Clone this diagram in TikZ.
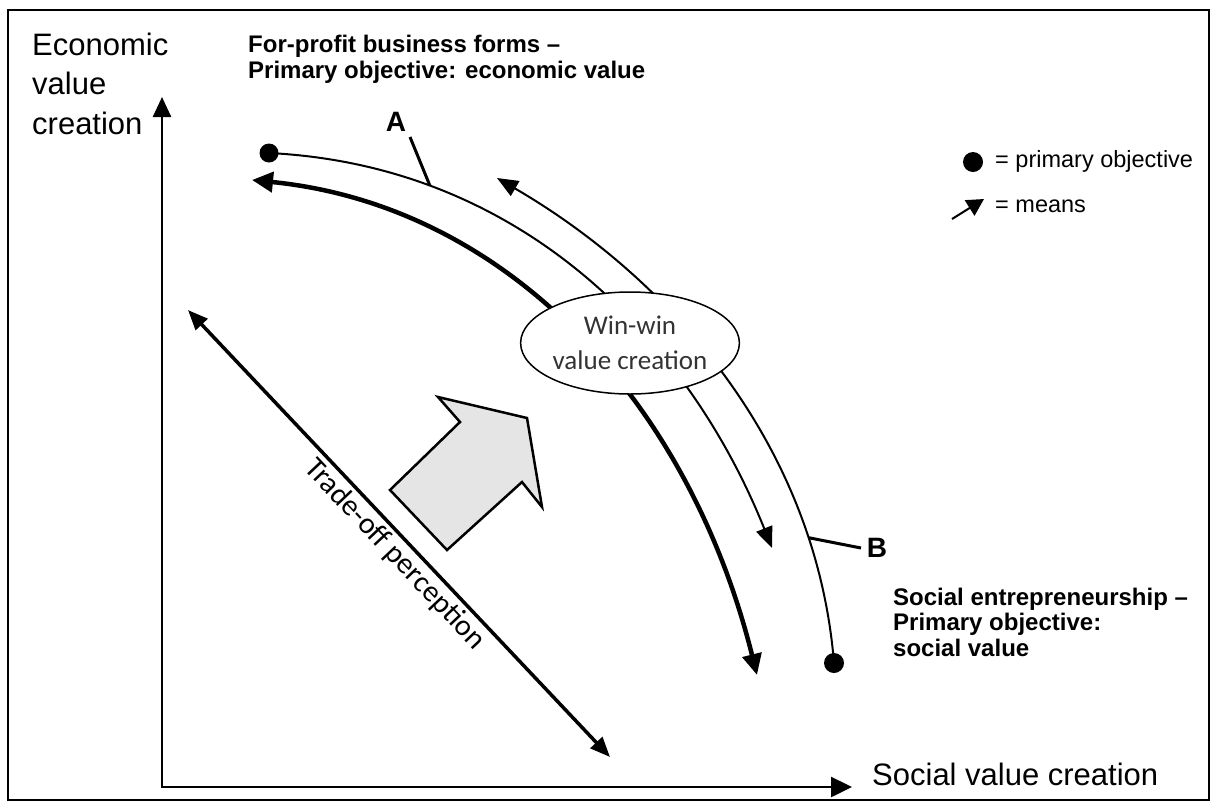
\documentclass[tikz,border=0pt]{standalone}
\usepackage{fontspec}
\setmainfont{Liberation Sans}
\newfontfamily\calibrifont{Carlito}
\usetikzlibrary{arrows.meta,shapes.geometric}
\begin{document}
\begin{tikzpicture}[x=1pt,y=-1pt,
  axisline/.style={line width=2.5pt},
  thincurve/.style={line width=2pt},
  thickcurve/.style={line width=4.5pt},
  leader/.style={line width=3pt},
  dot/.style={circle,fill=black,inner sep=0pt,minimum size=#1},
  axislabel/.style={inner sep=0pt,anchor=base west,font=\fontsize{31}{39}\selectfont},
  boldlabel/.style={inner sep=0pt,anchor=base west,font=\bfseries\fontsize{24}{26}\selectfont},
  legendlabel/.style={inner sep=0pt,anchor=base west,font=\fontsize{23.5}{26}\selectfont},
  letterlabel/.style={inner sep=0pt,anchor=base,font=\bfseries\fontsize{28}{30}\selectfont},
  blockarrow/.style={draw=black,fill=black!10,line width=2.5pt,line join=miter},
  winwin/.style={ellipse,draw=black,fill=white,line width=1.5pt,minimum width=208pt,minimum height=102pt,inner sep=0pt,align=center,text=black!80,font=\calibrifont\fontsize{27}{35}\selectfont}
]
\useasboundingbox (0,0) rectangle (1217,807);
\draw[line width=1.5pt] (8,10) rectangle (1209,800);

% axes
\coordinate (O) at (162,787);
\coordinate (Ytip) at (162,97);
\coordinate (Xtip) at (852,787);
\draw[axisline,{Triangle[length=20pt,width=18pt]}-{Triangle[length=21pt,width=20pt]}] (Ytip) -- (O) -- (Xtip);

% axis labels
\node[axislabel] (ylab1) at (32,55) {Economic};
\node[axislabel] (ylab2) at (32,94.5) {value};
\node[axislabel] (ylab3) at (32,134) {creation};
\node[axislabel] (xlab) at (872,785) {Social value creation};

% titles
\node[boldlabel] (fp1) at (248,52) {For-profit business forms --};
\node[boldlabel] (fp2) at (248,78) {Primary objective: economic value};
\node[boldlabel] (se1) at (893,605) {Social entrepreneurship --};
\node[boldlabel] (se2) at (893,630.5) {Primary objective:};
\node[boldlabel] (se3) at (893,656) {social value};

% legend
\node[dot=20pt] (ldot) at (973,162) {};
\node[legendlabel] (lobj) at (995,167) {= primary objective};
\coordinate (mA) at (952,219);
\coordinate (mB) at (984,199);
\draw[line width=2pt,-{Triangle[length=17pt,width=18pt]}] (mA) -- (mB);
\node[legendlabel] (lmeans) at (995,212) {= means};

% trade-off arrow
\coordinate (TOa) at (188,310);
\coordinate (TOb) at (610,757);
\draw[line width=3.5pt,{Triangle[length=20pt,width=16pt]}-{Triangle[length=20pt,width=16pt]}] (TOa) -- (TOb)
  node[pos=0.52,sloped,below=3pt,inner sep=0pt,font=\calibrifont\fontsize{30}{32}\selectfont] (tolab) {Trade-off perception};

% block arrow
\draw[blockarrow] (438,397) -- (527,418) -- (542,507) -- (522,482) -- (447,550) -- (390,490) -- (460,422) -- cycle;

% dots of primary objectives
\node[dot=19pt] (dA) at (269,153) {};
\node[dot=20pt] (dB) at (834,663) {};
\coordinate (Aend) at (772,548);
\coordinate (Bstart) at (497,178);
\coordinate (T1) at (252,180);
\coordinate (T2) at (757,675);

% curves
\draw[thickcurve,{Triangle[length=21pt,width=20pt]}-{Triangle[length=21pt,width=19pt]}] (T1) .. controls (502,205) and (687,395) .. (T2);
\draw[thincurve,-{Triangle[length=21pt,width=17pt]}] (dA.center) .. controls (529,166) and (692,348) .. (Aend) coordinate[pos=0.225] (Aon);
\draw[thincurve,{Triangle[length=21pt,width=17pt]}-] (Bstart) .. controls (669,278) and (816,443) .. (dB.center) coordinate[pos=0.8] (Bon);

% A and B labels
\node[letterlabel] (Alab) at (396,131) {A};
\coordinate (Aleader) at (410,137);
\draw[leader] (Aleader) -- (Aon);
\node[letterlabel] (Blab) at (877,557) {B};
\coordinate (Bleader) at (861,548);
\draw[leader] (Bon) -- (Bleader);

% win-win ellipse
\node[winwin] (ww) at (630,343) {Win-win\\value creation};
\end{tikzpicture}
\end{document}
